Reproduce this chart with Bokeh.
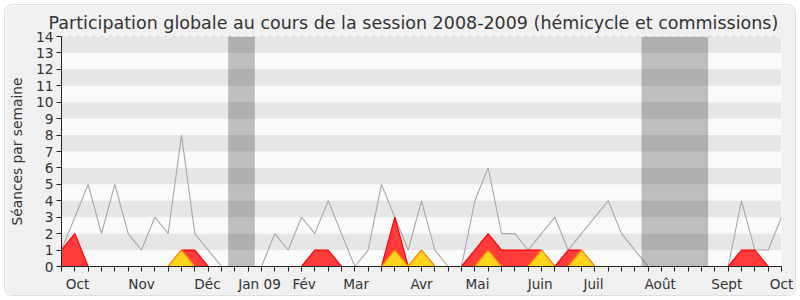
from bokeh.plotting import figure
from bokeh.models import FixedTicker, BoxAnnotation, Span, Range1d
from bokeh.embed import file_html
from bokeh.resources import INLINE

# ---- data (weekly values, session 2008-2009) ----
weeks = list(range(55))
total = [1, 3, 5, 2, 5, 2, 1, 3, 2, 8, 2, 1, 0, 0, 0, 0, 2, 1, 3, 2,
         4, 2, 0, 1, 5, 3, 1, 4, 1, 0, 0, 4, 6, 2, 2, 1, 2, 3, 1, 2,
         3, 4, 2, 1, 0, 0, 0, 0, 0, 0, 0, 4, 1, 1, 3]
presence = [1, 2, 0, 0, 0, 0, 0, 0, 0, 1, 1, 0, 0, 0, 0, 0, 0, 0, 0, 1,
            1, 0, 0, 0, 0, 3, 0, 1, 0, 0, 0, 1, 2, 1, 1, 1, 1, 0, 1, 1,
            0, 0, 0, 0, 0, 0, 0, 0, 0, 0, 0, 1, 1, 0, 0]
interventions = [0, 0, 0, 0, 0, 0, 0, 0, 0, 1, 0, 0, 0, 0, 0, 0, 0, 0, 0, 0,
                 0, 0, 0, 0, 0, 1, 0, 1, 0, 0, 0, 0, 1, 0, 0, 0, 1, 0, 0, 1,
                 0, 0, 0, 0, 0, 0, 0, 0, 0, 0, 0, 0, 0, 0, 0]
vacation_start = [12.5, 43.5]
vacation_end = [14.5, 48.5]
month_labels = ["Oct", "Nov", "Déc", "Jan 09", "Fév", "Mar", "Avr", "Mai",
                "Juin", "Juil", "Août", "Sept", "Oct"]
month_pos = [1.2, 6.0, 10.95, 14.85, 18.2, 22.1, 27.0, 31.2, 35.9, 39.9,
             44.9, 49.9, 54.0]
y_ticks = list(range(15))
band_ticks = list(range(1, 15))

FONT = "DejaVu Sans"

p = figure(width=790, height=290, output_backend="svg", toolbar_location=None,
           x_range=Range1d(0, 54), y_range=Range1d(0, 14),
           min_border_left=56, min_border_right=14, min_border_top=31,
           min_border_bottom=29, margin=(5, 5, 5, 5),
           title="Participation globale au cours de la session 2008-2009 (hémicycle et commissions)")
p.styles = {"border-radius": "7px", "box-shadow": "0 0 0 1px #dedede"}

p.background_fill_color = "#fafafa"
p.border_fill_color = "#f0f0f0"
p.outline_line_color = None

p.title.text_font = FONT
p.title.text_font_size = "17.5px"
p.title.text_font_style = "normal"
p.title.text_color = "#333333"
p.title.align = "left"
p.title.offset = -13
p.title.standoff = 8

# grid bands
p.xgrid.visible = False
p.ygrid.ticker = FixedTicker(ticks=band_ticks)
p.ygrid.grid_line_color = None
p.ygrid.band_fill_color = "#e6e6e6"
p.ygrid.band_fill_alpha = 1.0

# series
p.line(weeks, total, line_color="#a8a8a8", line_width=1.1)
p.varea(x=weeks, y1=0, y2=presence, fill_color="#ff3b3b")
p.line(weeks, presence, line_color="#ff0000", line_width=1.2)
p.varea(x=weeks, y1=0, y2=interventions, fill_color="#ffd41c")
p.line(weeks, interventions, line_color="#ff9900", line_width=1.2)

for a, b in zip(vacation_start, vacation_end):
    p.add_layout(BoxAnnotation(left=a, right=b, fill_color="black",
                               fill_alpha=0.24, line_color=None))

p.add_layout(Span(location=14, dimension="width", line_color="#444444",
                  line_dash="1 7", line_width=1))

# axes
xa = p.xaxis[0]
xa.ticker = FixedTicker(ticks=month_pos, minor_ticks=weeks)
xa.major_label_overrides = {pos: lab for pos, lab in zip(month_pos, month_labels)}
xa.major_tick_line_color = None
xa.major_tick_out = 0
xa.major_tick_in = 0
xa.minor_tick_out = 5
xa.minor_tick_in = 0
xa.minor_tick_line_color = "#222222"
xa.axis_line_color = "#222222"
xa.major_label_standoff = 4
xa.major_label_text_font = FONT
xa.major_label_text_font_size = "13.6px"
xa.major_label_text_color = "#333333"

ya = p.yaxis[0]
ya.ticker = FixedTicker(ticks=y_ticks)
ya.minor_tick_line_color = None
ya.major_tick_out = 5
ya.major_tick_in = 0
ya.major_tick_line_color = "#222222"
ya.axis_line_color = "#222222"
ya.major_label_standoff = 3
ya.major_label_text_font = FONT
ya.major_label_text_font_size = "13.8px"
ya.major_label_text_color = "#333333"
ya.axis_label = "Séances par semaine"
ya.axis_label_text_font = FONT
ya.axis_label_text_font_size = "13.8px"
ya.axis_label_text_font_style = "normal"
ya.axis_label_text_color = "#333333"
ya.axis_label_standoff = 8

open("out.html", "w").write(file_html(p, INLINE))
